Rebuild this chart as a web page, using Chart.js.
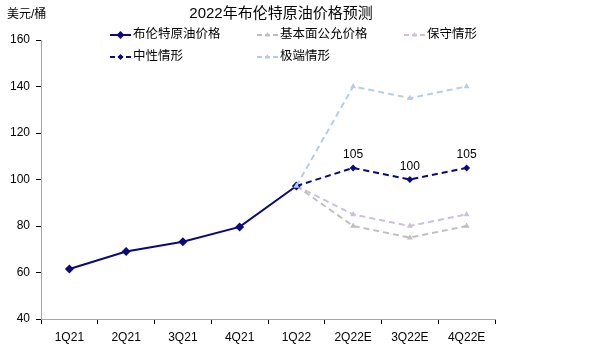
<!DOCTYPE html>
<html>
<head>
<meta charset="utf-8">
<script src="https://cdn.jsdelivr.net/npm/chart.js@4/dist/chart.umd.min.js"></script>
<style>
  html, body { margin: 0; padding: 0; background: #fff; }
</style>
</head>
<body>
<canvas id="chart" width="592" height="354"></canvas>
<script>
const quarters = ['1Q21', '2Q21', '3Q21', '4Q21', '1Q22', '2Q22E', '3Q22E', '4Q22E'];
const brent = [61.5, 69, 73.2, 79.6, 97.2, null, null, null];
const baseCase = [null, null, null, null, 97.2, 80, 75, 80];
const conservative = [null, null, null, null, 97.2, 85, 80, 85];
const neutral = [null, null, null, null, 97.2, 105, 100, 105];
const extreme = [null, null, null, null, 97.2, 140, 135, 140];
const yTicks = [40, 60, 80, 100, 120, 140, 160];

const FONT = '"Liberation Sans", Arial, "Noto Sans CJK SC", sans-serif';

const seriesStyle = [
    { label: '布伦特原油价格', data: brent, color: '#0a0a7a', dash: [], point: 'rectRot', radius: 4.5, col: 0, row: 0, order: 1 },
    { label: '基本面公允价格', data: baseCase, color: '#bfbfbf', dash: [6, 4], point: 'triangle', radius: 3.5, col: 1, row: 0, order: 3 },
    { label: '保守情形', data: conservative, color: '#ccc0da', dash: [6, 4], point: 'triangle', radius: 3.5, col: 2, row: 0, order: 3 },
    { label: '中性情形', data: neutral, color: '#0a0a7a', dash: [6, 4], point: 'rectRot', radius: 3.5, col: 0, row: 1, order: 2 },
    { label: '极端情形', data: extreme, color: '#b8cce4', dash: [6, 4], point: 'triangle', radius: 3.5, col: 1, row: 1, order: 0 }
];

// title, unit label, legend and value labels drawn straight on the canvas
const extras = {
    id: 'extras',
    afterDraw(chart) {
        const ctx = chart.ctx;
        ctx.save();
        ctx.fillStyle = '#000';
        ctx.textBaseline = 'middle';

        ctx.font = '15px ' + FONT;
        ctx.textAlign = 'center';
        ctx.fillText('2022年布伦特原油价格预测', 281, 14);

        ctx.font = '12px ' + FONT;
        ctx.textAlign = 'left';
        ctx.fillText('美元/桶', 7, 15);

        const colX = [110, 257, 404];
        const rowY = [35, 57];
        ctx.font = '12.5px ' + FONT;
        seriesStyle.forEach(s => {
            const x = colX[s.col];
            const y = rowY[s.row];
            ctx.strokeStyle = s.color;
            ctx.lineWidth = 2;
            ctx.setLineDash(s.dash.length ? [5, 3] : []);
            ctx.beginPath();
            ctx.moveTo(x, y);
            ctx.lineTo(x + 21, y);
            ctx.stroke();
            ctx.setLineDash([]);
            ctx.fillStyle = s.color;
            Chart.helpers.drawPoint(ctx, { pointStyle: s.point, radius: s.radius - 0.5, rotation: 0 }, x + 10.5, y);
            ctx.fillStyle = '#000';
            ctx.fillText(s.label, x + 23, y);
        });

        const meta = chart.getDatasetMeta(3);
        ctx.textAlign = 'center';
        ctx.font = '12px ' + FONT;
        meta.data.forEach((pt, i) => {
            if (i > 4 && neutral[i] != null) {
                ctx.fillText(String(neutral[i]), pt.x, pt.y - 13);
            }
        });
        ctx.restore();
    }
};

const ctx = document.getElementById('chart').getContext('2d');
new Chart(ctx, {
    type: 'line',
    data: {
        labels: quarters,
        datasets: seriesStyle.map(s => ({
            label: s.label,
            data: s.data,
            borderColor: s.color,
            backgroundColor: s.color,
            borderWidth: 2,
            borderDash: s.dash,
            pointStyle: s.point,
            pointRadius: s.radius,
            pointBorderWidth: 0,
            pointHoverRadius: s.radius,
            fill: false,
            tension: 0,
            spanGaps: false,
            order: s.order
        }))
    },
    options: {
        responsive: false,
        animation: false,
        layout: { padding: { top: 40, right: 97, bottom: 0, left: 0 } },
        plugins: {
            legend: { display: false },
            title: { display: false },
            tooltip: { enabled: false }
        },
        scales: {
            x: {
                offset: true,
                grid: {
                    offset: true,
                    drawOnChartArea: false,
                    drawTicks: true,
                    tickLength: 5,
                    color: '#000'
                },
                border: { color: '#a6a6a6', width: 1 },
                ticks: {
                    color: '#000',
                    font: { family: FONT, size: 12 },
                    padding: 6,
                    maxRotation: 0,
                    autoSkip: false
                },
                afterFit(scale) { scale.height = 35; }
            },
            y: {
                min: 40,
                max: 160,
                afterBuildTicks(scale) { scale.ticks = yTicks.map(v => ({ value: v })); },
                grid: {
                    drawOnChartArea: false,
                    drawTicks: true,
                    tickLength: 5,
                    color: '#000'
                },
                border: { color: '#a6a6a6', width: 1 },
                ticks: {
                    color: '#000',
                    font: { family: FONT, size: 12 },
                    padding: 6
                },
                afterFit(scale) { scale.width = 41; }
            }
        }
    },
    plugins: [extras]
});
</script>
</body>
</html>
